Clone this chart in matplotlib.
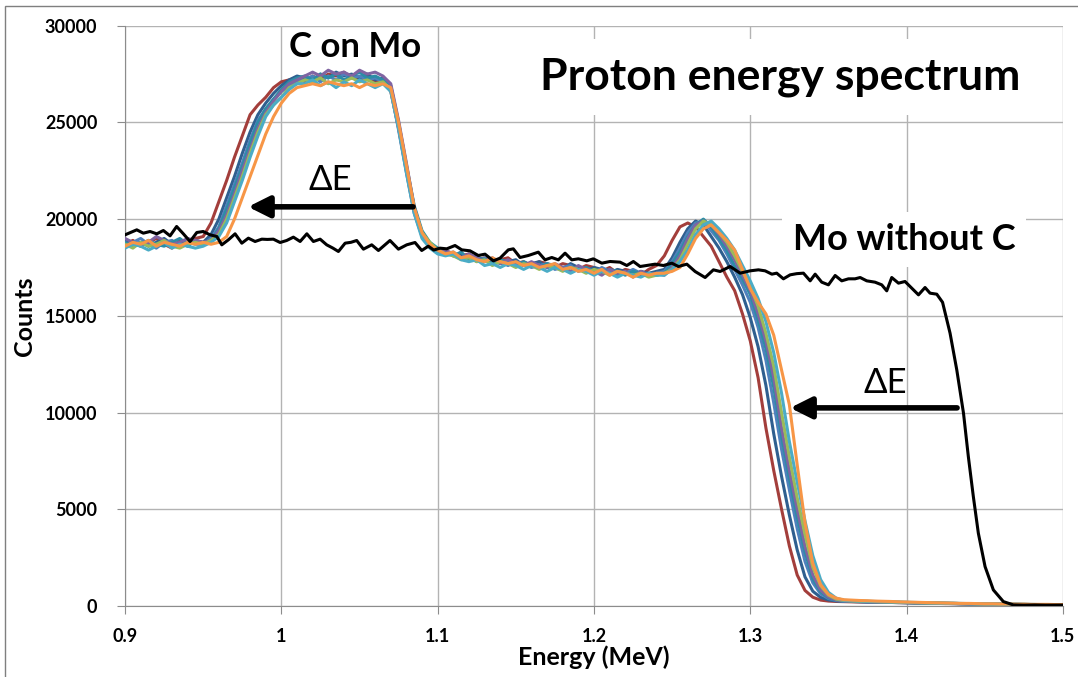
import numpy as np
import matplotlib
matplotlib.use('Agg')
import matplotlib.pyplot as plt
from matplotlib.patches import Rectangle

plt.rcParams['font.family'] = ['Lato', 'DejaVu Sans']

# canales de energia de las series "C on Mo" (MeV)
energy_mev = np.linspace(0.9, 1.5, 121)

c_on_mo_1 = [187, 189, 186, 188, 190, 187, 185, 189, 188, 190,
             191, 198, 209, 220, 232, 243, 254, 259, 263, 268, 271, 272, 273,
             271, 274, 272, 275, 274, 276, 273, 272, 274, 271, 272,
             266, 247, 225, 204, 192, 187, 184,
             183, 182, 181, 182, 179, 180, 178, 179, 180, 177, 178, 176, 178, 177,
             175, 177, 176, 174, 176, 175, 173, 175, 172, 174, 173, 171, 174, 176,
             181, 189, 196, 198, 196, 191, 186, 178, 170, 163, 151, 137, 118, 92,
             70, 50, 31, 16, 8, 4.5, 3, 2.5, 2.3, 2.2,
             2.1, 2.0, 2.0, 1.9, 1.8, 1.8, 1.7, 1.6, 1.5, 1.5, 1.4, 1.3, 1.2, 1.2,
             1.1, 1.0, 1.0, 0.9, 0.9, 0.8, 0.8, 0.7, 0.7, 0.6, 0.6, 0.6, 0.5, 0.5]
c_on_mo_2 = [189, 187, 188, 186, 188, 190, 187, 188, 186, 189,
             188, 192, 200, 211, 222, 234, 245, 254, 260, 265, 269, 272, 274,
             273, 272, 275, 273, 276, 274, 275, 273, 275, 272, 273,
             268, 249, 227, 206, 193, 186, 185,
             184, 181, 182, 180, 181, 178, 179, 177, 178, 179, 176, 177, 178, 175,
             176, 174, 177, 175, 173, 175, 174, 172, 174, 173, 171, 173, 172, 173,
             174, 180, 188, 195, 199, 197, 191, 185, 178, 170, 161, 149, 134, 114,
             89, 67, 47, 29, 15, 7.6, 4.4, 3.1, 2.6, 2.4,
             2.3, 2.2, 2.0, 2.0, 1.9, 1.8, 1.7, 1.7, 1.6, 1.5, 1.4, 1.4, 1.3, 1.2,
             1.1, 1.1, 1.0, 1.0, 0.9, 0.9, 0.8, 0.8, 0.7, 0.7, 0.6, 0.6, 0.6, 0.5]
c_on_mo_3 = [186, 188, 190, 187, 185, 188, 189, 186, 188, 187,
             187, 190, 196, 207, 218, 229, 241, 251, 257, 262, 266, 269, 271,
             272, 274, 271, 274, 272, 275, 273, 274, 272, 273, 271,
             267, 246, 224, 203, 191, 186, 183,
             182, 183, 180, 181, 178, 180, 177, 178, 176, 178, 177, 175, 176, 177,
             174, 175, 176, 173, 174, 172, 175, 173, 171, 172, 174, 172, 171, 172,
             173, 178, 185, 193, 198, 199, 194, 189, 182, 174, 166, 157, 144, 127,
             105, 81, 60, 40, 23, 12, 6.2, 3.8, 2.8, 2.4,
             2.3, 2.2, 2.1, 2.0, 1.9, 1.8, 1.8, 1.7, 1.6, 1.5, 1.5, 1.4, 1.3, 1.2,
             1.2, 1.1, 1.0, 1.0, 0.9, 0.9, 0.8, 0.8, 0.7, 0.7, 0.7, 0.6, 0.6, 0.5]
c_on_mo_4 = [188, 186, 187, 189, 187, 186, 188, 190, 187, 188,
             188, 189, 195, 205, 216, 227, 239, 250, 257, 262, 267, 271, 273,
             274, 272, 275, 273, 275, 272, 274, 276, 273, 274, 272,
             269, 250, 228, 207, 194, 188, 185,
             183, 181, 183, 179, 180, 179, 177, 179, 178, 176, 178, 176, 175, 177,
             176, 174, 175, 174, 175, 173, 172, 174, 173, 171, 173, 172, 172, 171,
             172, 177, 183, 191, 197, 200, 196, 190, 184, 176, 169, 161, 148, 133,
             113, 88, 66, 46, 28, 14, 7.3, 4.2, 2.9, 2.5,
             2.4, 2.3, 2.2, 2.1, 2.0, 1.9, 1.8, 1.7, 1.6, 1.6, 1.5, 1.4, 1.3, 1.3,
             1.2, 1.1, 1.1, 1.0, 0.9, 0.9, 0.8, 0.8, 0.8, 0.7, 0.7, 0.6, 0.6, 0.6]
c_on_mo_5 = [190, 188, 186, 188, 191, 189, 187, 188, 190, 189,
             188, 189, 194, 202, 213, 225, 236, 247, 255, 261, 266, 270, 272,
             274, 276, 274, 277, 275, 276, 274, 277, 275, 276, 274,
             270, 251, 229, 206, 192, 187, 183,
             184, 182, 180, 182, 180, 178, 180, 177, 179, 177, 176, 178, 176, 175,
             177, 175, 173, 176, 174, 173, 171, 174, 172, 173, 170, 173, 171, 172,
             171, 175, 181, 190, 197, 199, 197, 192, 186, 179, 171, 163, 151, 137,
             118, 92, 70, 50, 31, 16, 8.2, 4.6, 3.1, 2.6,
             2.5, 2.3, 2.2, 2.1, 2.0, 1.9, 1.8, 1.8, 1.7, 1.6, 1.5, 1.4, 1.4, 1.3,
             1.2, 1.1, 1.1, 1.0, 1.0, 0.9, 0.9, 0.8, 0.8, 0.7, 0.7, 0.6, 0.6, 0.6]
c_on_mo_6 = [187, 185, 188, 186, 187, 189, 186, 185, 187, 188,
             187, 189, 192, 200, 211, 222, 234, 245, 254, 259, 263, 268, 270,
             272, 271, 273, 270, 272, 271, 273, 271, 272, 270, 271,
             267, 248, 226, 205, 193, 188, 184,
             182, 181, 179, 180, 178, 179, 176, 178, 177, 175, 177, 176, 174, 176,
             175, 173, 175, 174, 172, 174, 173, 171, 173, 172, 171, 172, 170, 171,
             172, 174, 179, 187, 195, 199, 197, 193, 188, 181, 173, 165, 155, 141,
             124, 100, 77, 56, 37, 20, 10.4, 5.6, 3.5, 2.8,
             2.6, 2.4, 2.3, 2.2, 2.1, 2.0, 1.9, 1.8, 1.7, 1.6, 1.5, 1.5, 1.4, 1.3,
             1.2, 1.2, 1.1, 1.0, 1.0, 0.9, 0.9, 0.8, 0.8, 0.7, 0.7, 0.7, 0.6, 0.6]
c_on_mo_7 = [185, 187, 186, 184, 186, 188, 185, 187, 186, 185,
             186, 188, 191, 198, 209, 220, 232, 243, 253, 259, 263, 267, 270,
             270, 272, 269, 271, 268, 271, 269, 272, 270, 268, 270,
             266, 247, 224, 203, 190, 185, 182,
             181, 182, 179, 178, 179, 176, 177, 175, 177, 176, 174, 176, 175, 173,
             175, 174, 172, 174, 173, 171, 173, 172, 170, 172, 171, 170, 172, 171,
             171, 174, 178, 184, 192, 197, 199, 195, 190, 184, 176, 168, 159, 147,
             131, 110, 85, 64, 44, 26, 13.6, 7, 4, 2.9,
             2.7, 2.5, 2.4, 2.3, 2.2, 2.1, 2.0, 1.9, 1.8, 1.7, 1.6, 1.5, 1.4, 1.4,
             1.3, 1.2, 1.1, 1.1, 1.0, 1.0, 0.9, 0.9, 0.8, 0.8, 0.7, 0.7, 0.7, 0.6]
c_on_mo_8 = [186, 188, 187, 189, 186, 188, 187, 186, 188, 187,
             188, 187, 188, 191, 200, 211, 222, 233, 244, 253, 260, 265, 268,
             269, 270, 269, 271, 270, 269, 270, 268, 270, 269, 270,
             268, 250, 228, 206, 193, 187, 184,
             182, 183, 180, 181, 179, 178, 180, 178, 177, 178, 176, 177, 175, 176,
             177, 174, 175, 173, 174, 172, 174, 171, 173, 172, 170, 172, 171, 172,
             172, 173, 175, 182, 190, 195, 197, 193, 189, 184, 174, 164, 157, 151,
             140, 122, 104, 73, 43, 22, 11, 6, 4, 3.2,
             3.0, 2.8, 2.7, 2.5, 2.4, 2.3, 2.1, 2.0, 1.9, 1.8, 1.7, 1.6, 1.5, 1.4,
             1.3, 1.3, 1.2, 1.1, 1.1, 1.0, 1.0, 0.9, 0.9, 0.8, 0.8, 0.8, 0.7, 0.7]

series_c = [c_on_mo_1, c_on_mo_2, c_on_mo_3, c_on_mo_4,
            c_on_mo_5, c_on_mo_6, c_on_mo_7, c_on_mo_8]
colores = ['#A33E3B', '#2F5F8F', '#4F81BD', '#2C8CA6',
           '#8064A2', '#9BBB59', '#4BACC6', '#F79646']

# Mo sin carbono (linea negra)
mo_energy = [0.9000, 0.9075, 0.9117, 0.9160, 0.9203, 0.9245, 0.9288, 0.9330, 0.9373, 0.9416,
             0.9459, 0.9500, 0.9544, 0.9587, 0.9619, 0.9661, 0.9704, 0.9747, 0.9789, 0.9832,
             0.9875, 0.9910, 0.9949, 0.9992, 1.0034, 1.0077, 1.0120, 1.0163, 1.0205, 1.0248,
             1.0290, 1.0330, 1.0365, 1.0408, 1.0445, 1.0482, 1.0525, 1.0578, 1.0621, 1.0660,
             1.0695, 1.0749, 1.0802, 1.0855, 1.0898, 1.0940, 1.0975, 1.1015, 1.1058, 1.1111,
             1.1154, 1.1207, 1.1260, 1.1303, 1.1356, 1.1399, 1.1452, 1.1484, 1.1527, 1.1580,
             1.1644, 1.1687, 1.1730, 1.1772, 1.1815, 1.1858, 1.1900, 1.1954, 1.1996, 1.2050,
             1.2103, 1.2167, 1.2210, 1.2252, 1.2295, 1.2338, 1.2391, 1.2444, 1.2498, 1.2540,
             1.2594, 1.2647, 1.2711, 1.2764, 1.2807, 1.2871, 1.2935, 1.2999, 1.3052, 1.3095,
             1.3138, 1.3169, 1.3212, 1.3255, 1.3297, 1.3340, 1.3383, 1.3415, 1.3457, 1.3500,
             1.3543, 1.3585, 1.3628, 1.3670, 1.3703, 1.3745, 1.3798, 1.3841, 1.3873, 1.3905,
             1.3948, 1.3990, 1.4033, 1.4076, 1.4118, 1.4150, 1.4193, 1.4230, 1.4278, 1.4321,
             1.4364, 1.4395, 1.4427, 1.4459, 1.4502, 1.4555, 1.4619, 1.4683, 1.4750, 1.4820,
             1.4890, 1.5000]
mo_counts = [19188, 19446, 19274, 19360, 19240, 19412, 19136, 19619, 19240, 18843,
             19309, 19360, 19188, 19102, 18671, 18930, 19240, 18757, 19016, 18843,
             18964, 18950, 18964, 18791, 18895, 19068, 18843, 19240, 18843, 18964,
             18671, 18500, 18326, 18757, 18800, 18895, 18447, 18671, 18378, 18650,
             18895, 18447, 18671, 18791, 18378, 18600, 18400, 18499, 18464, 18636,
             18412, 18361, 18119, 18189, 17843, 17981, 18412, 18464, 18016, 18119,
             18292, 17895, 18016, 17895, 18240, 17895, 17947, 17843, 17947, 17723,
             17809, 17775, 17602, 17809, 17550, 17602, 17671, 17602, 17723, 17550,
             17671, 17292, 16981, 17378, 17292, 17550, 17206, 17326, 17378, 17326,
             17154, 17206, 16913, 17119, 17180, 17206, 16809, 17154, 16740, 16602,
             17085, 16809, 16913, 16913, 16981, 16809, 16740, 16602, 16292, 16981,
             16689, 16775, 16430, 16085, 16464, 16171, 16119, 15700, 14104, 12206,
             9966, 7722, 5653, 3760, 2033, 828, 224, 52, 40, 50,
             40, 45]

x_ticks = [0.9, 1.0, 1.1, 1.2, 1.3, 1.4, 1.5]
x_tick_labels = ['0.9', '1', '1.1', '1.2', '1.3', '1.4', '1.5']
y_ticks = [0, 5000, 10000, 15000, 20000, 25000, 30000]

fig = plt.figure(figsize=(10.78, 6.77), dpi=100)
ax = fig.add_axes([0.116, 0.105, 0.870, 0.857])

gris = '#B3B3B3'
for i, vals in enumerate(series_c):
    ax.plot(energy_mev, np.array(vals) * 100, color=colores[i], lw=2.2, zorder=3)
ax.plot(mo_energy, mo_counts, color='black', lw=2.2, zorder=4)

ax.set_xlim(0.9, 1.5)
ax.set_ylim(0, 30000)
ax.set_xticks(x_ticks)
ax.set_xticklabels(x_tick_labels)
ax.set_yticks(y_ticks)
ax.grid(True, color=gris, lw=1)
ax.set_axisbelow(True)
for s in ['top', 'right']:
    ax.spines[s].set_visible(False)
for s in ['left', 'bottom']:
    ax.spines[s].set_color('#8C8C8C')
ax.tick_params(axis='both', direction='out', length=6, color='#8C8C8C',
               labelsize=13)
ax.tick_params(axis='y', pad=14)
ax.tick_params(axis='x', pad=10)
for lbl in ax.get_xticklabels() + ax.get_yticklabels():
    lbl.set_fontweight('bold')

ax.set_xlabel('Energy (MeV)', fontsize=18, fontweight='bold', labelpad=0)
ax.set_ylabel('Counts', fontsize=18, fontweight='bold', labelpad=6)

# textos y flechas
ax.text(1.3191, 27360, 'Proton energy spectrum', fontsize=32, fontweight='bold',
        ha='center', va='center', zorder=6,
        bbox=dict(boxstyle='square,pad=0.4', fc='white', ec='none'))
ax.text(1.0472, 28911, 'C on Mo', fontsize=25, fontweight='bold',
        ha='center', va='center', zorder=6)
ax.text(1.3984, 18930, 'Mo without C', fontsize=26, fontweight='bold',
        ha='center', va='center', zorder=6,
        bbox=dict(boxstyle='square,pad=0.3', fc='white', ec='none'))
ax.text(1.0312, 22030, 'ΔE', fontsize=25, ha='center', va='center', zorder=6)
ax.text(1.3862, 11533, 'ΔE', fontsize=25, ha='center', va='center', zorder=6)

flecha = dict(arrowstyle='-|>', lw=4, color='black', mutation_scale=32,
              shrinkA=0, shrinkB=0)
ax.annotate('', xy=(0.9787, 20636), xytext=(1.0843, 20636), arrowprops=flecha, zorder=6)
ax.annotate('', xy=(1.3255, 10240), xytext=(1.4323, 10240), arrowprops=flecha, zorder=6)

# borde del area del grafico
fig.patches.append(Rectangle((5 / 1078, -0.1), 1.2, 1.1 - 6 / 677,
                             transform=fig.transFigure, fill=False,
                             ec='#7F7F7F', lw=1))

fig.savefig('out.png', dpi=100)
